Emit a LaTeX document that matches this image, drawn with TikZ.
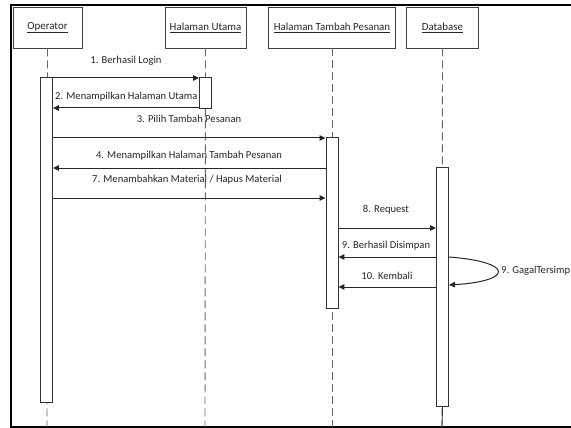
\documentclass[tikz,border=0pt]{standalone}
\usepackage{fontspec}
\setmainfont{Carlito}
\usetikzlibrary{arrows.meta}
\begin{document}
\begin{tikzpicture}[x=1pt,y=-1pt,
  head/.style={draw=black!75, line width=0.9pt, rectangle, inner sep=0pt, font=\fontsize{10.9}{12}\selectfont, text=black!85},
  actbar/.style={draw=black!80, line width=0.9pt, fill=white, rectangle, inner sep=0pt, minimum width=12pt, anchor=north},
  life/.style={draw=black!60, line width=0.9pt, dash pattern=on 8pt off 4pt},
  msg/.style={draw=black!85, line width=1pt, -{Triangle[length=6pt,width=5.5pt]}},
  lbl/.style={font=\fontsize{10.6}{12}\selectfont, text=black!85, inner sep=0pt}
]
\useasboundingbox (0,0) rectangle (571,428);
% frame
\draw[line width=1.6pt] (571,5) -- (11,5) -- (11,427) -- (571,427);
% headers
\node[head, minimum width=69pt, minimum height=41pt] (op) at (47.5,27.5) {\underline{Operator}};
\node[head, minimum width=81pt, minimum height=41pt] (hu) at (205.5,27.5) {\underline{Halaman Utama}};
\node[head, minimum width=127pt, minimum height=41pt] (htp) at (332,27.5) {\underline{Halaman Tambah Pesanan}};
\node[head, minimum width=72pt, minimum height=41pt] (db) at (442.5,27.5) {\underline{Database}};
% bottom ends of lifelines
\coordinate (opend) at (47,427);
\coordinate (huend) at (205,427);
\coordinate (htpend) at (332,427);
\coordinate (dbend) at (442,427);
% lifelines
\draw[life] (op.south) -- (opend);
\draw[life] (hu.south) -- (huend);
\draw[life] (htp.south) -- (htpend);
\draw[life] (db.south) -- (dbend);
% activation bars
\node[actbar, minimum height=325pt] (opbar) at (46.5,77) {};
\node[actbar, minimum height=31pt] (hubar) at (205.5,77) {};
\node[actbar, minimum height=171pt] (htpbar) at (332,137) {};
\node[actbar, minimum height=239pt] (dbbar) at (442.5,167) {};
\draw[black!80, line width=0.9pt] (dbbar.south) -- (dbend);
% messages
\node[lbl] (l1) at (126,61) {1. Berhasil Login};
\draw[msg] (opbar.east |- 0,78) -- (hubar.west |- 0,78);
\node[lbl, anchor=west] (l2) at (55,97) {2. Menampilkan Halaman Utama};
\draw[msg] (hubar.west |- 0,108) -- (opbar.east |- 0,108);
\node[lbl] (l3) at (189,119) {3. Pilih Tambah Pesanan};
\draw[msg] (opbar.east |- 0,138) -- (htpbar.west |- 0,138);
\node[lbl] (l4) at (189,156) {4. Menampilkan Halaman Tambah Pesanan};
\draw[msg] (htpbar.west |- 0,168) -- (opbar.east |- 0,168);
\node[lbl] (l7) at (187,180) {7. Menambahkan Material / Hapus Material};
\draw[msg] (opbar.east |- 0,198) -- (htpbar.west |- 0,198);
\node[lbl] (l8) at (386,210) {8. Request};
\draw[msg] (htpbar.east |- 0,228) -- (dbbar.west |- 0,228);
\node[lbl] (l9) at (386,246) {9. Berhasil Disimpan};
\draw[msg] (dbbar.west |- 0,257) -- (htpbar.east |- 0,257);
\node[lbl] (l10) at (387,276) {10. Kembali};
\draw[msg] (dbbar.west |- 0,287) -- (htpbar.east |- 0,287);
% self loop
\draw[msg] (dbbar.east |- 0,257) .. controls (514,262) and (514,281) .. (dbbar.east |- 0,285);
\node[lbl, anchor=west] (l9b) at (501,271) {9. GagalTersimp};
\end{tikzpicture}
\end{document}
